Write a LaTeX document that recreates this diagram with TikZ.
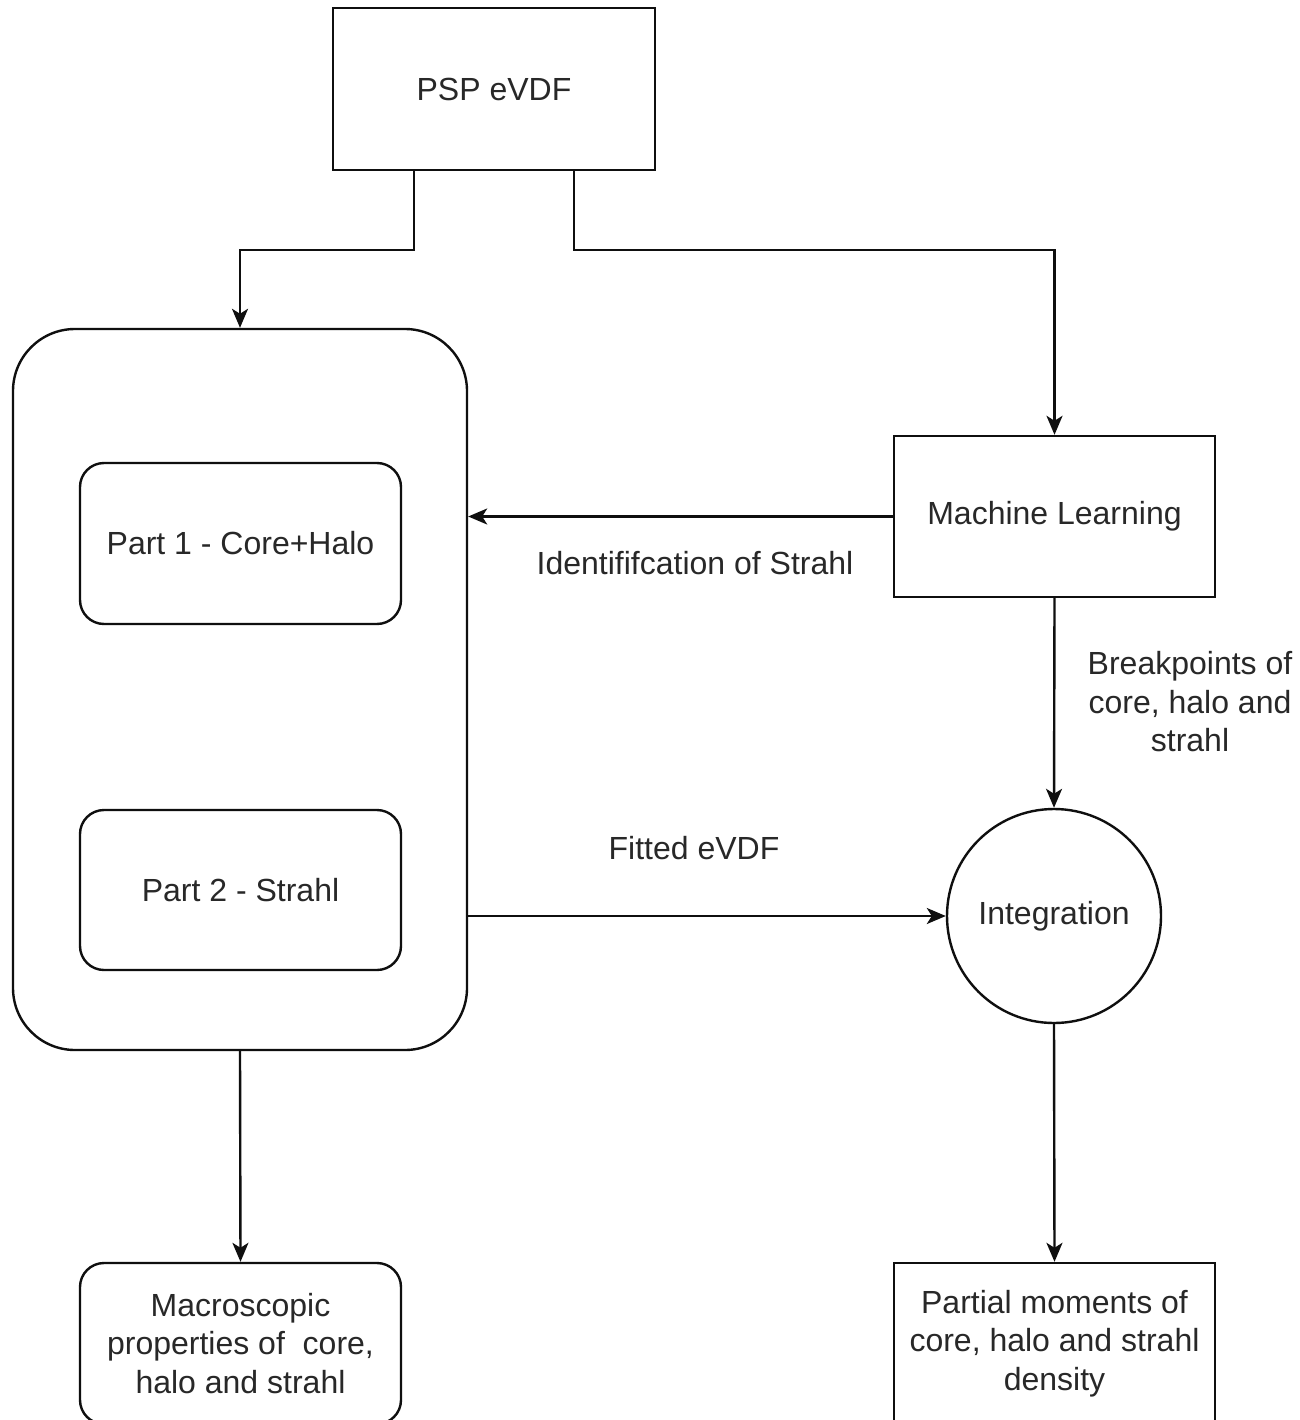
\documentclass[tikz,border=0pt]{standalone}
\usepackage{fontspec}
\setmainfont{Liberation Sans}
\usetikzlibrary{arrows.meta,shapes.geometric}
\definecolor{txt}{RGB}{40,40,40}
\definecolor{ln}{RGB}{15,15,15}
\begin{document}
\begin{tikzpicture}[x=1pt,y=-1pt,
  every node/.style={font=\fontsize{32}{38.5}\selectfont, text=txt, align=center, inner sep=0pt},
  box/.style={draw=ln, line width=2.4pt, rectangle, minimum width=321pt, minimum height=161pt},
  rbox/.style={box, rounded corners=24pt},
  bigbox/.style={draw=ln, line width=2.4pt, rectangle, rounded corners=62pt, minimum width=454pt, minimum height=721pt},
  circ/.style={draw=ln, line width=2.4pt, circle, minimum size=214pt},
  lbl/.style={},
  arr/.style={draw=ln, line width=2.4pt, -{Stealth[length=19pt,width=16pt,inset=5pt]}}]
\useasboundingbox (0,0) rectangle (1299,1420);
\clip (0,0) rectangle (1299,1420);
\fill[white] (0,0) rectangle (1299,1420);

\node[box, minimum width=322pt, minimum height=162pt] (psp) at (494,89) {PSP eVDF};
\node[bigbox] (big) at (240,689.5) {};
\node[rbox] (p1) at (240.5,543.5) {Part 1 - Core+Halo};
\node[rbox, minimum height=160pt] (p2) at (240.5,890) {Part 2 - Strahl};
\node[box] (ml) at (1054.5,516.5) {Machine Learning};
\node[circ] (integ) at (1054,916) {Integration};
\node[rbox] (macro) at (240.5,1343.5) {Macroscopic\\properties of~~core,\\halo and strahl};
\node[box] (partial) at (1054.5,1343.5) {Partial moments of\\core, halo and strahl\\density};

\node[lbl] (lid) at (695,563) {Identififcation of Strahl};
\node[lbl] (lfit) at (694,848) {Fitted eVDF};
\node[lbl] (lbp) at (1190,702) {Breakpoints of\\core, halo and\\strahl};

\draw[arr] ([xshift=-80pt]psp.south) -- ++(0,79) -| (big.north);
\draw[arr] ([xshift=80pt]psp.south) -- ++(0,79) -| (ml.north);
\draw[arr] (ml.west) -- (ml.west -| big.east);
\draw[arr] (ml.south) -- (integ.north);
\draw[arr] (integ.west -| big.east) -- (integ.west);
\draw[arr] (big.south) -- (macro.north);
\draw[arr] (integ.south) -- (partial.north);
\end{tikzpicture}
\end{document}
